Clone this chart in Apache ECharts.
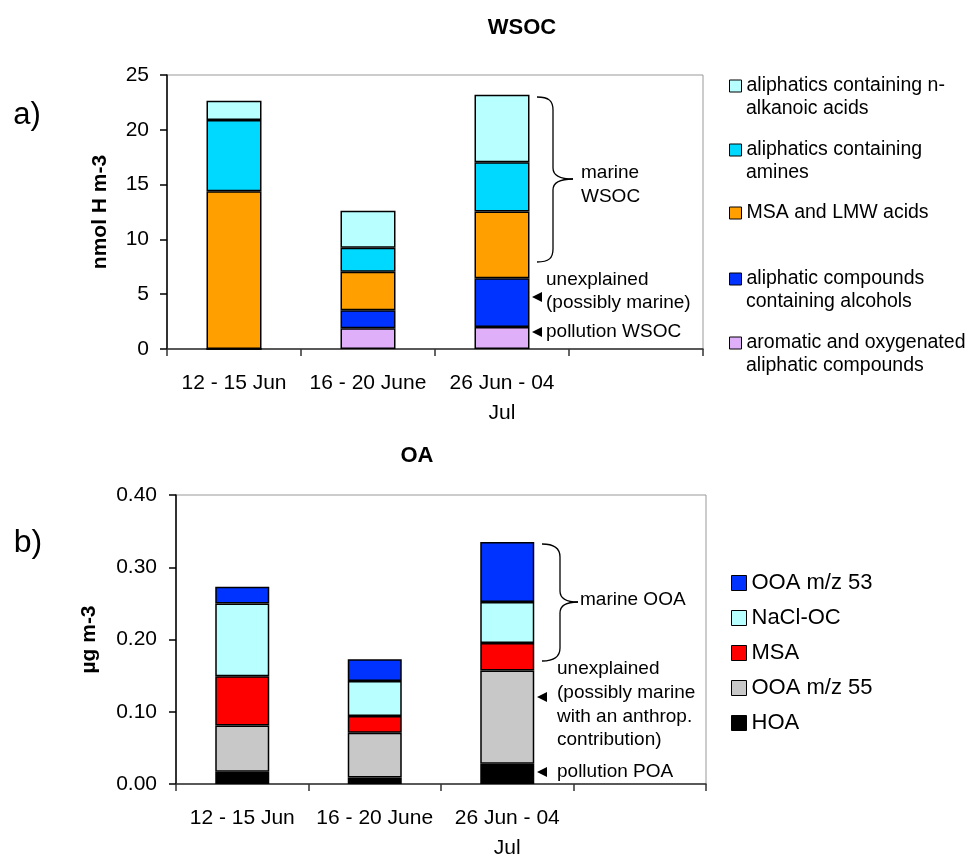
<!DOCTYPE html>
<html>
<head>
<meta charset="utf-8">
<style>html,body{margin:0;padding:0;background:#fff;}#c{width:965px;height:856px;}</style>
<script src="https://cdn.jsdelivr.net/npm/echarts@6/dist/echarts.min.js"></script>
</head>
<body>
<div id="c"></div>
<script>
// ---- data ----
const categories = ['12 - 15 Jun', '16 - 20 June', '26 Jun - 04\nJul', ''];

// WSOC (nmol H m-3), stacked bottom -> top
const aromaticOxyAliphatic = [0, 1.9, 2.0];
const aliphaticAlcohols   = [0, 1.63, 4.45];
const msaLmwAcids         = [14.4, 3.52, 6.1];
const aliphaticAmines     = [6.5, 2.19, 4.5];
const aliphaticAlkanoic   = [1.75, 3.38, 6.15];

// OA (ug m-3), stacked bottom -> top
const hoa    = [0.017, 0.009, 0.028];
const ooa55  = [0.064, 0.062, 0.129];
const msa    = [0.068, 0.023, 0.038];
const naclOc = [0.101, 0.0485, 0.057];
const ooa53  = [0.023, 0.030, 0.083];

const wsocTicks = [0, 5, 10, 15, 20, 25];
const oaTicks = [0, 0.1, 0.2, 0.3, 0.4];

// ---- styles ----
const FONT = 'Liberation Sans, Arial, sans-serif';
const wsocSeries = [
  {name: 'aromatic and oxygenated aliphatic compounds', lines: ['aromatic and oxygenated', 'aliphatic compounds'], data: aromaticOxyAliphatic, color: '#E0AFFA', legendY: 343},
  {name: 'aliphatic compounds containing alcohols', lines: ['aliphatic compounds', 'containing alcohols'], data: aliphaticAlcohols, color: '#0033FF', legendY: 279},
  {name: 'MSA and LMW acids', lines: ['MSA and LMW acids'], data: msaLmwAcids, color: '#FFA000', legendY: 213},
  {name: 'aliphatics containing amines', lines: ['aliphatics containing', 'amines'], data: aliphaticAmines, color: '#00D9FF', legendY: 150},
  {name: 'aliphatics containing n-alkanoic acids', lines: ['aliphatics containing n-', 'alkanoic acids'], data: aliphaticAlkanoic, color: '#B8FFFF', legendY: 86}
];
const oaSeries = [
  {name: 'HOA', data: hoa, color: '#000000'},
  {name: 'OOA m/z 55', data: ooa55, color: '#C8C8C8'},
  {name: 'MSA', data: msa, color: '#FF0000'},
  {name: 'NaCl-OC', data: naclOc, color: '#B8FFFF'},
  {name: 'OOA m/z 53', data: ooa53, color: '#0033FF'}
];

function xAxisCfg(gridIndex) {
  return {
    type: 'category', gridIndex, data: categories,
    axisLine: {lineStyle: {color: '#333', width: 1.5}},
    axisTick: {show: true, length: 7, lineStyle: {color: '#333', width: 1.5}},
    axisLabel: {interval: 0, fontSize: 21, color: '#000', fontFamily: FONT, margin: 19, lineHeight: 30},
    splitLine: {show: false}
  };
}

const series = [];
wsocSeries.forEach(s => series.push({
  type: 'bar', name: s.name, stack: 'wsoc', xAxisIndex: 0, yAxisIndex: 0,
  barWidth: 55, data: s.data,
  itemStyle: {color: s.color, borderColor: '#000', borderWidth: 1.5}
}));
oaSeries.forEach(s => series.push({
  type: 'bar', name: s.name, stack: 'oa', xAxisIndex: 1, yAxisIndex: 1,
  barWidth: 54, data: s.data,
  itemStyle: {color: s.color, borderColor: '#000', borderWidth: 1.5}
}));

const LEG_FONT = 19.5;
const LEG_LH = 22.5;
const legends = wsocSeries.map(s => ({
  data: [s.name], left: 729, top: s.legendY - LEG_LH / 2, padding: 0,
  orient: 'vertical', icon: 'rect', itemWidth: 12, itemHeight: 12,
  itemStyle: {borderColor: '#000', borderWidth: 1},
  selectedMode: false,
  formatter: () => s.lines[0],
  textStyle: {fontSize: LEG_FONT, color: '#000', fontFamily: FONT, lineHeight: LEG_LH}
}));
legends.push({
  data: oaSeries.map(s => s.name).reverse(), left: 731, top: 572, padding: 0,
  orient: 'vertical', icon: 'rect', itemWidth: 15, itemHeight: 15, itemGap: 13,
  itemStyle: {borderColor: '#000', borderWidth: 1},
  selectedMode: false,
  textStyle: {fontSize: 22, color: '#000', fontFamily: FONT, lineHeight: 22}
});

const txt = (x, y, text, extra) => ({
  type: 'text', x, y,
  style: Object.assign({text, fill: '#000', font: '19px ' + FONT, align: 'left', verticalAlign: 'middle', lineHeight: 23.5}, extra || {})
});
// continuation lines of the wrapped legend labels
const legendContinuations = wsocSeries.filter(s => s.lines.length > 1)
  .map(s => txt(746, s.legendY + LEG_LH, s.lines.slice(1).join('\n'), {font: LEG_FONT + 'px ' + FONT, lineHeight: LEG_LH}));

const arrow = (x, y) => ({type: 'polygon', shape: {points: [[x, y], [x + 10, y - 5], [x + 10, y + 5]]}, style: {fill: '#000'}});
const LS = {stroke: '#000', lineWidth: 1.3, fill: null};
function brace(x0, xv, xt, yTop, yMid, yBot) {
  return {
    type: 'group',
    children: [
      {type: 'bezierCurve', shape: {x1: x0, y1: yTop, cpx1: x0 + 12, cpy1: yTop, cpx2: xv, cpy2: yTop + 4, x2: xv, y2: yTop + 13}, style: LS},
      {type: 'line', shape: {x1: xv, y1: yTop + 13, x2: xv, y2: yMid - 11}, style: LS},
      {type: 'bezierCurve', shape: {x1: xv, y1: yMid - 11, cpx1: xv, cpy1: yMid - 4, cpx2: xv + 6, cpy2: yMid, x2: xt, y2: yMid}, style: LS},
      {type: 'bezierCurve', shape: {x1: xt, y1: yMid, cpx1: xv + 6, cpy1: yMid, cpx2: xv, cpy2: yMid + 4, x2: xv, y2: yMid + 11}, style: LS},
      {type: 'line', shape: {x1: xv, y1: yMid + 11, x2: xv, y2: yBot - 13}, style: LS},
      {type: 'bezierCurve', shape: {x1: xv, y1: yBot - 13, cpx1: xv, cpy1: yBot - 4, cpx2: x0 + 12, cpy2: yBot, x2: x0, y2: yBot}, style: LS}
    ]
  };
}

const option = {
  backgroundColor: '#fff',
  animation: false,
  title: [
    {text: 'WSOC', left: 517, top: 12, textAlign: 'center', textStyle: {fontSize: 22, fontWeight: 'bold', color: '#000', fontFamily: FONT}},
    {text: 'OA', left: 412, top: 440, textAlign: 'center', textStyle: {fontSize: 22, fontWeight: 'bold', color: '#000', fontFamily: FONT}}
  ],
  grid: [
    {left: 167, top: 75, width: 536, height: 274, show: true, borderColor: '#999', borderWidth: 1, containLabel: false, outerBoundsMode: 'none'},
    {left: 176, top: 495, width: 530, height: 289, show: true, borderColor: '#999', borderWidth: 1, containLabel: false, outerBoundsMode: 'none'}
  ],
  xAxis: [xAxisCfg(0), xAxisCfg(1)],
  yAxis: [
    {type: 'value', gridIndex: 0, min: wsocTicks[0], max: wsocTicks[wsocTicks.length - 1], interval: 5,
     name: 'nmol H m-3', nameLocation: 'middle', nameGap: 56,
     nameTextStyle: {fontSize: 21, fontWeight: 'bold', color: '#000', fontFamily: FONT},
     axisLine: {show: true, lineStyle: {color: '#000', width: 1.5}},
     axisTick: {show: true, length: 7, lineStyle: {color: '#000', width: 1.5}},
     axisLabel: {fontSize: 21, color: '#000', fontFamily: FONT, margin: 18},
     splitLine: {show: false}},
    {type: 'value', gridIndex: 1, min: oaTicks[0], max: oaTicks[oaTicks.length - 1], interval: 0.1,
     name: 'µg m-3', nameLocation: 'middle', nameGap: 76,
     nameTextStyle: {fontSize: 21, fontWeight: 'bold', color: '#000', fontFamily: FONT},
     axisLine: {show: true, lineStyle: {color: '#000', width: 1.5}},
     axisTick: {show: true, length: 7, lineStyle: {color: '#000', width: 1.5}},
     axisLabel: {fontSize: 21, color: '#000', fontFamily: FONT, margin: 19, formatter: v => v.toFixed(2)},
     splitLine: {show: false}}
  ],
  legend: legends,
  series,
  graphic: [
    txt(27, 115, 'a)', {font: '31px ' + FONT, align: 'center'}),
    txt(28, 543, 'b)', {font: '32px ' + FONT, align: 'center'}),
    ...legendContinuations,
    brace(537, 553, 573, 97, 179, 262),
    txt(581, 185, 'marine\nWSOC', {lineHeight: 24}),
    txt(546, 291.5, 'unexplained\n(possibly marine)', {lineHeight: 23}),
    arrow(532, 297),
    txt(546, 332, 'pollution WSOC'),
    arrow(532, 332),
    brace(542, 560, 578, 544, 602, 661),
    txt(580, 600, 'marine OOA'),
    txt(557, 704.5, 'unexplained\n(possibly marine\nwith an anthrop.\ncontribution)', {lineHeight: 23.7}),
    arrow(537, 697),
    txt(557, 772, 'pollution POA'),
    arrow(537, 772)
  ]
};

const chart = echarts.init(document.getElementById('c'), null, {renderer: 'canvas'});
chart.setOption(option);
</script>
</body>
</html>
